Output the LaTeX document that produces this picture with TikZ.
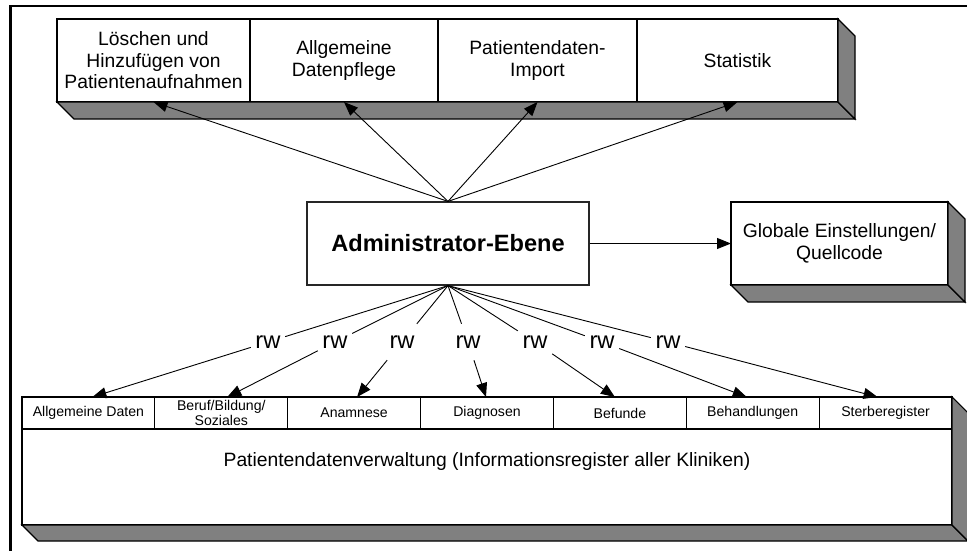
\documentclass[tikz,border=0pt]{standalone}
\usepackage{fontspec}
\setmainfont{Liberation Sans}
\usetikzlibrary{arrows.meta,calc}

\definecolor{sidegray}{RGB}{128,128,128}

\tikzset{
  face/.style={draw=black, line width=1.1pt, fill=white, inner sep=0pt, outer sep=0pt,
               align=center, font=\fontsize{19.3}{21.5}\selectfont},
  cell/.style={draw=black, line width=1.1pt, fill=white, inner sep=0pt, outer sep=0pt,
               align=center, font=\fontsize{14.1}{15}\selectfont,
               minimum width=132.86pt, minimum height=32pt},
  sideface/.style={draw=black, line width=1.1pt, fill=sidegray, line join=miter},
  rwlabel/.style={inner sep=0pt, minimum width=34pt, minimum height=36pt,
                  font=\fontsize{23.7}{26}\selectfont},
  link/.style={draw=black, line width=0.9pt},
  arr/.style={link, -{Triangle[length=14pt, width=11pt]}}
}

\begin{document}
\begin{tikzpicture}[x=1pt, y=-1pt]
  \useasboundingbox (0,0) rectangle (967,550);
  \clip (0,0) rectangle (967,550);

  % outer frame
  \draw[line width=2.5pt] (10.5,6) rectangle (990,575);

  % ---- top row of admin functions (3D bar) ----
  \node[face, minimum width=193pt, minimum height=83pt] (t1) at (153.5,60.5)
    {Löschen und\\Hinzufügen von\\Patientenaufnahmen};
  \node[face, minimum width=188pt, minimum height=83pt] (t2) at (344,60.5)
    {Allgemeine\\Datenpflege};
  \node[face, minimum width=199pt, minimum height=83pt] (t3) at (537.5,60.5)
    {Patientendaten-\\Import};
  \node[face, minimum width=201pt, minimum height=83pt] (t4) at (737.5,60.5)
    {Statistik};
  \draw[sideface] (t1.south west) -- (t4.south east) -- ++(17,17)
    -- ($(t1.south west)+(17,17)$) -- cycle;
  \draw[sideface] (t4.north east) -- ++(17,17) -- ($(t4.south east)+(17,17)$)
    -- (t4.south east) -- cycle;

  % ---- administrator level ----
  \node[draw=black!85, line width=1.2pt, inner sep=0pt, minimum width=282pt,
        minimum height=83pt, font=\bfseries\fontsize{23.6}{26}\selectfont]
    (admin) at (448,243.5) {Administrator-Ebene};

  % ---- global settings box ----
  \node[face, minimum width=217pt, minimum height=83pt] (glob) at (839.5,243.5)
    {Globale Einstellungen/\\Quellcode};
  \draw[sideface] (glob.south west) -- (glob.south east) -- ++(17,17)
    -- ($(glob.south west)+(17,17)$) -- cycle;
  \draw[sideface] (glob.north east) -- ++(17,17) -- ($(glob.south east)+(17,17)$)
    -- (glob.south east) -- cycle;

  % ---- patient data management (3D block with register cells) ----
  \node[face, minimum width=930pt, minimum height=96pt] (pv) at (487,477) {};
  \node[cell] (c1) at (88.4,413)  {Allgemeine Daten};
  \node[cell] (c2) at (221.3,413) {Beruf/Bildung/\\Soziales};
  \node[cell] (c3) at (354.1,413) {Anamnese};
  \node[cell] (c4) at (487,413)   {Diagnosen};
  \node[cell] (c5) at (619.9,413) {Befunde};
  \node[cell] (c6) at (752.7,413) {Behandlungen};
  \node[cell] (c7) at (885.6,413) {Sterberegister};
  \node[font=\fontsize{19.3}{21.5}\selectfont, inner sep=0pt] (pvtext) at (487,462)
    {Patientendatenverwaltung (Informationsregister aller Kliniken)};
  \draw[sideface] (pv.south west) -- (pv.south east) -- ++(16,16)
    -- ($(pv.south west)+(16,16)$) -- cycle;
  \draw[sideface] (c7.north east) -- ++(16,16) -- ($(pv.south east)+(16,16)$)
    -- (pv.south east) -- cycle;

  % ---- connectors to the top functions ----
  \foreach \t in {t1,t2,t3,t4}
    \draw[arr] (admin.north) -- (\t.south);

  % ---- connector to the global settings ----
  \draw[arr] (admin.east) -- (glob.west);

  % ---- read/write connectors to the registers ----
  \node[rwlabel] (r1) at (268,342) {rw};
  \node[rwlabel] (r2) at (335,342) {rw};
  \node[rwlabel] (r3) at (402,342) {rw};
  \node[rwlabel] (r4) at (468,342) {rw};
  \node[rwlabel] (r5) at (535,342) {rw};
  \node[rwlabel] (r6) at (602,342) {rw};
  \node[rwlabel] (r7) at (668,342) {rw};

  \foreach \r/\c/\s in {r1/c1/4, r2/c2/6, r3/c3/3, r4/c4/-1, r5/c5/-5, r6/c6/-6, r7/c7/-8} {
    \draw[link] (admin.south) -- (\r);
    \draw[arr] (\r) -- ([xshift=\s pt]\c.north);
  }
\end{tikzpicture}
\end{document}
